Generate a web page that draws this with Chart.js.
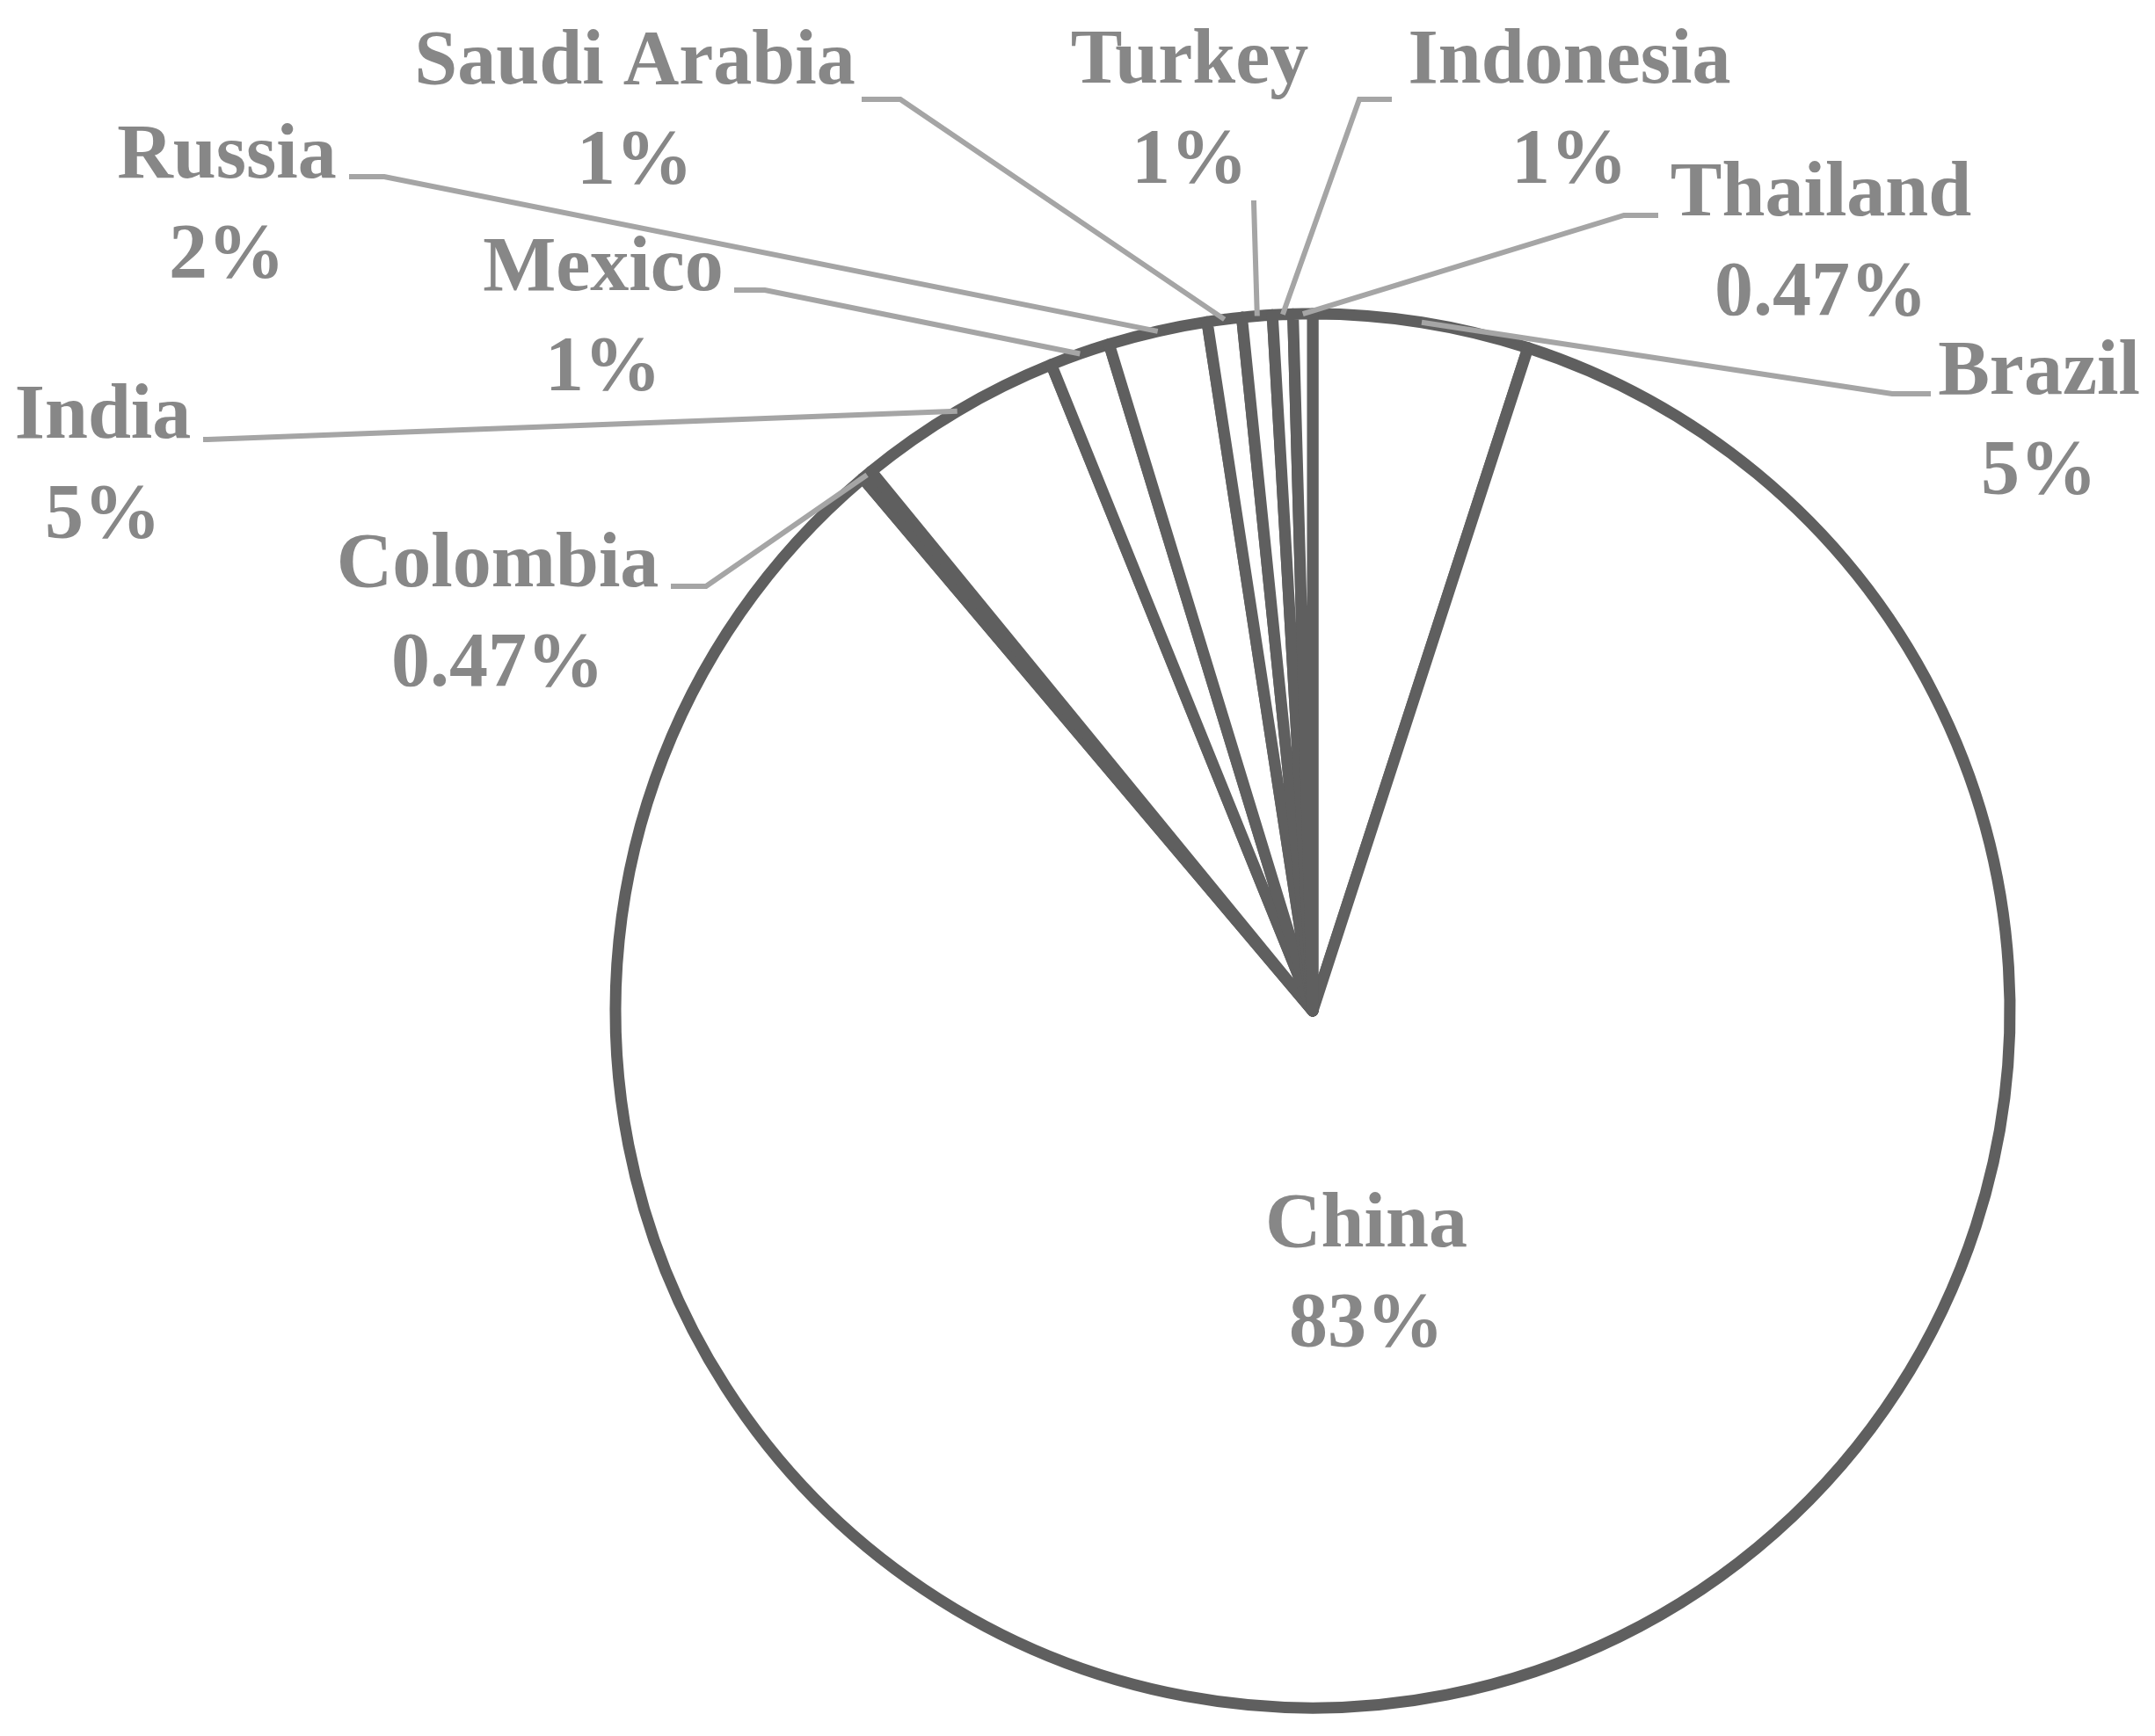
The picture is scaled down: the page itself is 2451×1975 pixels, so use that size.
<!DOCTYPE html>
<html>
<head>
<meta charset="utf-8">
<script src="https://cdn.jsdelivr.net/npm/chart.js@4.4.1/dist/chart.umd.min.js"></script>
<style>
  html, body { margin: 0; padding: 0; background: #fff; }
  canvas { display: block; }
</style>
</head>
<body>
<canvas id="pieChart" width="2451" height="1975"></canvas>
<script>
// slices go clockwise from 12 o'clock
const countries = ['Brazil', 'China', 'Colombia', 'India', 'Mexico', 'Russia', 'Saudi Arabia', 'Turkey', 'Indonesia', 'Thailand'];
const shares = [5.0, 83.9, 0.25, 4.8, 1.4, 2.3, 0.8, 0.7, 0.47, 0.45];
const shareLabels = ['5%', '83%', '0.47%', '5%', '1%', '2%', '1%', '1%', '1%', '0.47%'];

// label centre x / first baseline, and where its leader line starts and bends
const labelPos = [
    { x: 2319, y: 448, from: [2196, 448], bend: [2152, 448] },
    { x: 1554, y: 1418 },
    { x: 566, y: 667, from: [763, 667], bend: [803, 667] },
    { x: 117, y: 498, from: [231, 500], bend: [236, 500] },
    { x: 686, y: 330, from: [835, 330], bend: [870, 330] },
    { x: 258, y: 202, from: [397, 201], bend: [437, 201] },
    { x: 722, y: 95, from: [980, 113], bend: [1024, 113] },
    { x: 1353, y: 94, from: [1426, 228], bend: [1426, 230] },
    { x: 1785, y: 94, from: [1583, 113], bend: [1546, 113] },
    { x: 2071, y: 245, from: [1886, 245], bend: [1847, 245] }
];

const leaderPlugin = {
    id: 'leaders',
    afterDatasetsDraw(chart) {
        const ctx = chart.ctx;
        const arcs = chart.getDatasetMeta(0).data;
        ctx.save();
        ctx.strokeStyle = '#a5a5a5';
        ctx.lineWidth = 6;
        ctx.lineJoin = 'miter';
        arcs.forEach((arc, i) => {
            const p = labelPos[i];
            if (!p.from) return;
            const a = arc.getProps(['x', 'y', 'startAngle', 'endAngle', 'outerRadius'], true);
            const mid = (a.startAngle + a.endAngle) / 2;
            ctx.beginPath();
            ctx.moveTo(p.from[0], p.from[1]);
            ctx.lineTo(p.bend[0], p.bend[1]);
            ctx.lineTo(a.x + Math.cos(mid) * a.outerRadius, a.y + Math.sin(mid) * a.outerRadius);
            ctx.stroke();
        });

        ctx.fillStyle = '#878787';
        ctx.font = 'bold 88px "Liberation Serif"';
        ctx.textAlign = 'center';
        ctx.textBaseline = 'alphabetic';
        arcs.forEach((arc, i) => {
            const p = labelPos[i];
            ctx.fillText(countries[i], p.x, p.y);
            ctx.fillText(shareLabels[i], p.x, p.y + 113);
        });
        ctx.restore();
    }
};

new Chart(document.getElementById('pieChart'), {
    type: 'pie',
    data: {
        labels: countries,
        datasets: [{
            data: shares,
            backgroundColor: '#ffffff',
            borderColor: '#5f5f5f',
            borderWidth: 13,
            borderJoinStyle: 'round'
        }]
    },
    options: {
        responsive: false,
        animation: false,
        radius: 793,
        events: [],
        layout: { padding: { left: 600, right: 65, top: 345, bottom: 20 } },
        plugins: {
            legend: { display: false },
            tooltip: { enabled: false }
        }
    },
    plugins: [leaderPlugin]
});
</script>
</body>
</html>
